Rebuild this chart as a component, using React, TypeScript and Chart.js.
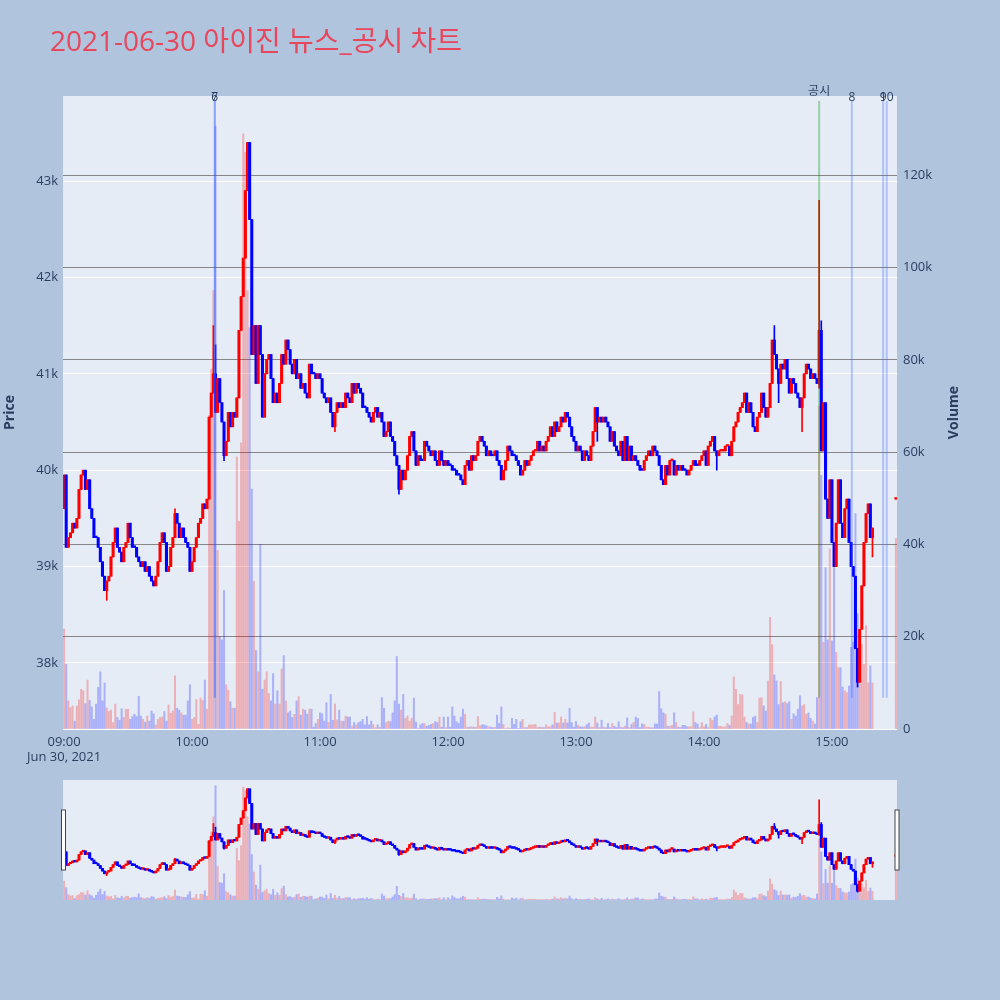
import React, { useEffect, useRef } from "react";
import { Chart, registerables } from "chart.js";

Chart.register(...registerables);

// ---------------- data ----------------
const TITLE = "2021-06-30 아이진 뉴스_공시 차트";
const DATE_LABEL = "Jun 30, 2021";
const FIRST_OPEN = 39600;

// one close per minute, 09:00 .. 15:19 (each candle opens at the previous close)
const closes: number[] = [
  39950, 39200, 39300, 39350, 39450, 39400, 39500, 39800, 39950, 40000,
  39800, 39900, 39600, 39500, 39300, 39300, 39200, 39050, 38900, 38750,
  38850, 38900, 39100, 39250, 39400, 39200, 39150, 39050, 39200, 39250,
  39450, 39300, 39200, 39200, 39100, 39050, 39000, 39050, 38950, 39000,
  38900, 38850, 38800, 38900, 39050, 39250, 39350, 39250, 38950, 39000,
  39200, 39300, 39550, 39450, 39300, 39400, 39300, 39250, 39200, 38950,
  39050, 39200, 39300, 39450, 39500, 39650, 39600, 39700, 40550, 40800,
  41000, 40600, 40950, 40700, 40500, 40150, 40300, 40600, 40450, 40600,
  40550, 40750, 41450, 41800, 42200, 42900, 43400, 42600, 41200, 41500,
  40900, 41500, 41200, 40550, 41000, 41150, 41200, 40950, 40700, 40800,
  40700, 40900, 41200, 41100, 41350, 41250, 41100, 41000, 41150, 40950,
  41000, 40850, 40900, 40800, 40750, 41100, 41000, 41000, 40950, 41000,
  40950, 40800, 40750, 40700, 40750, 40600, 40450, 40600, 40700, 40650,
  40700, 40650, 40800, 40750, 40700, 40900, 40800, 40900, 40850, 40800,
  40650, 40650, 40600, 40550, 40500, 40600, 40650, 40550, 40600, 40500,
  40350, 40400, 40500, 40350, 40300, 40150, 40050, 39800, 40000, 39900,
  40000, 40150, 40350, 40400, 40200, 40050, 40150, 40100, 40100, 40300,
  40250, 40200, 40150, 40200, 40100, 40050, 40200, 40100, 40050, 40100,
  40050, 40050, 40000, 40000, 39950, 39950, 39900, 39850, 40050, 40100,
  40000, 40150, 40100, 40150, 40300, 40350, 40300, 40250, 40150, 40200,
  40150, 40150, 40200, 40100, 40050, 39900, 40000, 40100, 40250, 40200,
  40150, 40150, 40100, 40050, 39950, 40000, 40100, 40050, 40100, 40150,
  40200, 40200, 40300, 40200, 40250, 40200, 40300, 40350, 40450, 40350,
  40500, 40400, 40450, 40550, 40500, 40600, 40550, 40450, 40350, 40300,
  40200, 40250, 40200, 40100, 40200, 40150, 40100, 40250, 40400, 40650,
  40500, 40550, 40500, 40550, 40500, 40450, 40300, 40400, 40250, 40200,
  40150, 40300, 40100, 40350, 40100, 40250, 40100, 40150, 40100, 40050,
  40000, 40000, 40100, 40150, 40200, 40150, 40250, 40200, 40150, 40050,
  39900, 39850, 40050, 39950, 40100, 40100, 39950, 40050, 40000, 40050,
  40000, 40000, 39950, 40000, 40050, 40100, 40050, 40050, 40100, 40150,
  40200, 40050, 40250, 40300, 40350, 40200, 40150, 40200, 40200, 40200,
  40250, 40250, 40150, 40300, 40450, 40500, 40600, 40650, 40700, 40800,
  40600, 40700, 40600, 40450, 40400, 40550, 40600, 40800, 40650, 40550,
  40650, 40900, 41350, 41200, 41050, 40900, 41100, 41050, 41150, 40950,
  40800, 40950, 40900, 40800, 40750, 40650, 40750, 41000, 41100, 41050,
  40950, 41000, 40950, 40900, 41450, 40200, 40700, 39700, 39500, 39900,
  39250, 39000, 39450, 39900, 39450, 39300, 39600, 39700, 39250, 39000,
  38900, 38150, 37800, 38350, 38800, 39250, 39550, 39650, 39300, 39400,
];

// wick extremes beyond the body: [minute index, price]
const wickHighs: [number, number][] = [
  [52, 39600], [70, 41500], [71, 41300], [333, 41500], [354, 42800], [355, 41550],
];
const wickLows: [number, number][] = [
  [20, 38650], [75, 40100], [127, 40400], [157, 39750], [250, 40300], [306, 40000],
  [335, 40700], [346, 40400], [354, 40850], [372, 37750], [379, 39100],
];

// volume per minute, in thousands of shares, 09:00 .. 15:19
const volumesK: number[] = [
  21.7, 14.0, 6.1, 4.6, 5.0, 1.7, 5.0, 6.3, 8.6, 8.3,
  5.5, 10.6, 6.2, 4.8, 2.1, 5.4, 9.0, 12.4, 6.1, 10.0,
  4.6, 3.8, 4.1, 1.4, 5.4, 2.5, 1.9, 4.4, 2.5, 4.3,
  4.3, 2.1, 2.7, 3.2, 2.7, 7.1, 2.8, 2.1, 1.5, 2.8,
  1.7, 3.9, 3.3, 0.9, 2.1, 2.5, 2.6, 3.8, 1.7, 5.2,
  3.4, 3.9, 11.5, 4.5, 4.1, 3.5, 3.0, 3.0, 6.1, 9.6,
  2.1, 2.5, 6.4, 1.0, 6.7, 6.2, 10.6, 4.3, 68.0, 78.0,
  95.0, 130.7, 38.7, 20.0, 19.3, 30.0, 9.6, 8.4, 5.9, 4.5,
  4.5, 59.0, 45.0, 62.0, 129.0, 125.0, 95.0, 87.0, 52.0, 32.0,
  17.0, 12.4, 40.0, 8.6, 10.6, 12.4, 7.7, 6.1, 12.0, 5.4,
  8.3, 5.4, 13.0, 15.9, 6.1, 3.5, 3.9, 2.5, 3.2, 6.1,
  7.0, 3.0, 4.3, 4.1, 3.2, 4.3, 4.3, 0.4, 1.2, 2.1,
  3.5, 3.3, 1.7, 5.7, 1.4, 7.5, 1.9, 5.4, 2.0, 4.1,
  1.7, 1.7, 2.8, 2.6, 2.6, 0.6, 1.4, 0.9, 1.4, 1.6,
  2.1, 0.9, 2.7, 0.9, 1.7, 1.0, 0.3, 0.9, 0.4, 6.8,
  4.5, 1.4, 1.7, 1.6, 3.5, 6.1, 15.7, 5.4, 4.1, 7.5,
  2.3, 2.8, 1.7, 2.3, 6.7, 1.5, 0.1, 0.9, 1.2, 1.2,
  0.6, 0.8, 1.0, 1.2, 1.6, 1.4, 2.6, 0.4, 2.6, 0.3,
  2.6, 0.4, 4.8, 2.8, 1.6, 1.2, 2.6, 4.3, 3.2, 0.4,
  0.4, 0.5, 0.4, 0.4, 2.7, 0.7, 0.9, 0.9, 0.7, 0.5,
  0.4, 0.3, 0.4, 3.0, 1.2, 4.8, 1.0, 0.1, 0.3, 0.1,
  2.3, 1.0, 2.1, 0.1, 1.6, 2.1, 0.3, 0.3, 0.9, 0.9,
  0.9, 1.0, 0.4, 0.4, 0.4, 0.3, 0.9, 0.5, 0.5, 0.9,
  3.6, 1.3, 1.3, 2.6, 1.3, 2.1, 1.3, 4.5, 1.4, 0.4,
  1.6, 0.8, 0.5, 0.4, 0.5, 0.9, 1.3, 0.4, 0.4, 2.6,
  1.3, 0.3, 1.9, 0.4, 0.3, 1.2, 0.3, 1.2, 0.6, 0.3,
  1.6, 0.4, 0.3, 0.6, 2.4, 0.3, 1.0, 1.4, 2.6, 2.3,
  0.3, 1.1, 1.0, 0.4, 0.4, 0.3, 0.3, 1.1, 1.1, 8.1,
  4.4, 3.5, 3.2, 0.6, 0.6, 0.8, 3.5, 1.4, 0.4, 0.4,
  0.8, 0.8, 0.5, 0.5, 0.5, 3.7, 1.4, 1.1, 0.3, 1.4,
  0.5, 1.0, 0.3, 2.3, 1.9, 2.6, 3.0, 0.6, 0.6, 0.4,
  0.5, 1.2, 0.8, 2.8, 11.3, 8.6, 5.3, 7.5, 7.4, 2.6,
  1.4, 1.1, 1.1, 2.5, 2.8, 1.4, 6.7, 6.8, 5.0, 3.9,
  10.4, 24.2, 18.3, 11.7, 10.4, 5.3, 10.3, 5.7, 5.9, 5.5,
  5.9, 2.1, 3.3, 2.8, 4.3, 7.2, 5.0, 5.3, 3.2, 3.5,
  2.3, 1.7, 1.1, 6.8, 70.0, 55.0, 18.8, 35.0, 19.3, 39.0,
  19.1, 35.0, 16.6, 13.3, 13.3, 9.1, 8.3, 7.9, 9.3, 17.7,
  18.8, 46.7, 25.0, 14.4, 18.4, 14.0, 22.4, 10.0, 13.7, 10.0,
];

// closing single-price auction
const closingTime = "15:30";
const closingPrice = 39700;
const closingVolumeK = 41.3;

const xTickTimes = ["09:00", "10:00", "11:00", "12:00", "13:00", "14:00", "15:00"];
const priceTicks = [38000, 39000, 40000, 41000, 42000, 43000];
const volumeTicks = [0, 20000, 40000, 60000, 80000, 100000, 120000];

const newsTimes = ["10:10:40", "10:10:40", "14:54:00", "15:09:20", "15:24:00", "15:25:40"];
const newsLabels = ["6", "7", "공시", "8", "9", "10"];
const newsIsDisclosure = [false, false, true, false, false, false];

const PRICE_MIN = 37315;
const PRICE_MAX = 43882;
const VOLUME_MAX = 137200;
const NEWS_LINE_LOW = 37640;
const NEWS_LINE_HIGH = 43830;

// ---------------- styling ----------------
const PAGE_BG = "#b0c4de";
const PLOT_BG = "#e5ecf6";
const TEXT = "#2a3f5f";
const UP = "rgb(255,0,0)";
const DOWN = "rgb(0,0,255)";
const UP_VOL = "rgba(255,0,0,0.25)";
const DOWN_VOL = "rgba(0,0,255,0.25)";
const FONT = '"Open Sans", "Noto Sans CJK KR", sans-serif';

const toMin = (t: string) => {
  const p = t.split(":").map(Number);
  return (p[0] - 9) * 60 + p[1] + (p[2] || 0) / 60;
};

type Candle = { x: number; o: number; h: number; l: number; c: number; up: boolean };

function buildCandles(): Candle[] {
  const hiMap = new Map(wickHighs);
  const loMap = new Map(wickLows);
  const out: Candle[] = [];
  let prevUp = true;
  closes.forEach((c, i) => {
    const o = i === 0 ? FIRST_OPEN : closes[i - 1];
    const h = Math.max(o, c, hiMap.get(i) ?? -Infinity);
    const l = Math.min(o, c, loMap.get(i) ?? Infinity);
    const up = c > o ? true : c < o ? false : prevUp;
    prevUp = up;
    out.push({ x: i, o, h, l, c, up });
  });
  const last = closes[closes.length - 1];
  out.push({
    x: toMin(closingTime),
    o: closingPrice,
    h: closingPrice,
    l: closingPrice,
    c: closingPrice,
    up: closingPrice >= last,
  });
  return out;
}

function buildDatasets(candles: Candle[], bodyW: number, wickW: number, volW: number) {
  const vols = [...volumesK, closingVolumeK];
  return [
    {
      type: "bar" as const,
      label: "Volume",
      yAxisID: "yv",
      data: candles.map((k, i) => ({ x: k.x, y: vols[i] * 1000 })),
      backgroundColor: candles.map((k) => (k.up ? UP_VOL : DOWN_VOL)),
      barThickness: volW,
      grouped: false,
      borderWidth: 0,
      order: 3,
    },
    {
      type: "bar" as const,
      label: "wick",
      yAxisID: "y",
      data: candles.map((k) => ({ x: k.x, y: [k.l, k.h] })),
      backgroundColor: candles.map((k) => (k.up ? UP : DOWN)),
      barThickness: wickW,
      grouped: false,
      borderWidth: 0,
      order: 2,
    },
    {
      type: "bar" as const,
      label: "body",
      yAxisID: "y",
      data: candles.map((k) => ({ x: k.x, y: [Math.min(k.o, k.c), Math.max(k.o, k.c)] })),
      backgroundColor: candles.map((k) => (k.up ? UP : DOWN)),
      barThickness: bodyW,
      minBarLength: 1.6,
      grouped: false,
      borderWidth: 0,
      order: 1,
    },
  ];
}

const mainDecor = {
  id: "mainDecor",
  beforeDraw(chart: any) {
    const { ctx, chartArea: a } = chart;
    ctx.save();
    ctx.fillStyle = PLOT_BG;
    ctx.fillRect(a.left, a.top, a.right - a.left, a.bottom - a.top);
    ctx.restore();
  },
  afterDatasetsDraw(chart: any) {
    const { ctx } = chart;
    const xs = chart.scales.x;
    const ys = chart.scales.y;
    const y0 = ys.getPixelForValue(NEWS_LINE_LOW);
    const y1 = ys.getPixelForValue(NEWS_LINE_HIGH);
    ctx.save();
    newsTimes.forEach((t, i) => {
      const px = xs.getPixelForValue(toMin(t));
      ctx.strokeStyle = newsIsDisclosure[i] ? "rgba(0,140,0,0.32)" : "rgba(60,100,255,0.32)";
      ctx.lineWidth = 2;
      ctx.beginPath();
      ctx.moveTo(px, y0);
      ctx.lineTo(px, y1);
      ctx.stroke();
    });
    ctx.restore();
  },
  afterDraw(chart: any) {
    const { ctx } = chart;
    const xs = chart.scales.x;
    ctx.save();
    // news labels
    ctx.fillStyle = TEXT;
    ctx.textAlign = "center";
    ctx.textBaseline = "alphabetic";
    ctx.font = `12px ${FONT}`;
    newsTimes.forEach((t, i) => {
      const px = xs.getPixelForValue(toMin(t));
      ctx.fillText(newsLabels[i], px, newsIsDisclosure[i] ? 95 : 100.5);
    });
    // title
    ctx.textAlign = "left";
    ctx.fillStyle = "#e8465a";
    ctx.font = `28px ${FONT}`;
    ctx.fillText(TITLE, 50, 51);
    // axis titles
    ctx.fillStyle = TEXT;
    ctx.font = `bold 14px ${FONT}`;
    ctx.textAlign = "center";
    ctx.textBaseline = "middle";
    const midY = (chart.chartArea.top + chart.chartArea.bottom) / 2;
    ctx.save();
    ctx.translate(10, midY);
    ctx.rotate(-Math.PI / 2);
    ctx.fillText("Price", 0, 0);
    ctx.restore();
    ctx.save();
    ctx.translate(954, midY);
    ctx.rotate(-Math.PI / 2);
    ctx.fillText("Volume", 0, 0);
    ctx.restore();
    ctx.restore();
  },
};

const sliderDecor = {
  id: "sliderDecor",
  beforeDraw(chart: any) {
    const { ctx, chartArea: a } = chart;
    ctx.save();
    ctx.fillStyle = PLOT_BG;
    ctx.fillRect(a.left, a.top, a.right - a.left, a.bottom - a.top);
    ctx.restore();
  },
  afterDraw(chart: any) {
    const { ctx, chartArea: a } = chart;
    ctx.save();
    ctx.fillStyle = "#ffffff";
    ctx.strokeStyle = "#444444";
    ctx.lineWidth = 1;
    const hy = a.top + 30;
    [a.left - 1.5, a.right - 2].forEach((hx) => {
      ctx.fillRect(hx, hy, 4, 60);
      ctx.strokeRect(hx, hy, 4, 60);
    });
    ctx.restore();
  },
};

export default function App() {
  const mainRef = useRef<HTMLCanvasElement>(null);
  const sliderRef = useRef<HTMLCanvasElement>(null);

  useEffect(() => {
    const candles = buildCandles();
    const tickFont = { family: FONT, size: 13 };

    const main = new Chart(mainRef.current as HTMLCanvasElement, {
      type: "bar",
      data: { datasets: buildDatasets(candles, 2.4, 1, 1.4) as any },
      plugins: [mainDecor],
      options: {
        animation: false,
        responsive: false,
        events: [],
        layout: { padding: { top: 96, left: 0, right: 0, bottom: 0 } },
        plugins: { legend: { display: false }, tooltip: { enabled: false } },
        scales: {
          x: {
            type: "linear",
            min: -0.5,
            max: 390.5,
            offset: false,
            grid: { display: false, drawTicks: false, tickLength: 0 },
            border: { display: false },
            afterBuildTicks: (s: any) => {
              s.ticks = xTickTimes.map((t) => ({ value: toMin(t) }));
            },
            afterFit: (s: any) => {
              s.height = 46;
            },
            ticks: {
              autoSkip: false,
              maxRotation: 0,
              padding: 5,
              color: TEXT,
              font: tickFont,
              callback: (_v: any, i: number) => (i === 0 ? [xTickTimes[0], DATE_LABEL] : xTickTimes[i]),
            },
          },
          y: {
            type: "linear",
            position: "left",
            min: PRICE_MIN,
            max: PRICE_MAX,
            grid: { color: "#ffffff", lineWidth: 1, drawTicks: false },
            border: { display: false },
            afterBuildTicks: (s: any) => {
              s.ticks = priceTicks.map((v) => ({ value: v }));
            },
            afterFit: (s: any) => {
              s.width = 63;
            },
            ticks: {
              padding: 5,
              color: TEXT,
              font: tickFont,
              callback: (v: any) => `${Number(v) / 1000}k`,
            },
          },
          yv: {
            type: "linear",
            position: "right",
            min: 0,
            max: VOLUME_MAX,
            grid: {
              color: (c: any) => (c.tick && c.tick.value === 0 ? "#ffffff" : "rgba(100,100,100,0.75)"),
              lineWidth: 1,
              drawTicks: false,
            },
            border: { display: false },
            afterBuildTicks: (s: any) => {
              s.ticks = volumeTicks.map((v) => ({ value: v }));
            },
            afterFit: (s: any) => {
              s.width = 103;
            },
            ticks: {
              padding: 6,
              color: TEXT,
              font: tickFont,
              callback: (v: any) => (Number(v) === 0 ? "0" : `${Number(v) / 1000}k`),
            },
          },
        },
      } as any,
    });

    const slider = new Chart(sliderRef.current as HTMLCanvasElement, {
      type: "bar",
      data: { datasets: buildDatasets(candles, 2.4, 1, 1.4) as any },
      plugins: [sliderDecor],
      options: {
        animation: false,
        responsive: false,
        events: [],
        layout: { padding: { top: 10, bottom: 10, left: 63, right: 103 } },
        plugins: { legend: { display: false }, tooltip: { enabled: false } },
        scales: {
          x: { type: "linear", min: -0.5, max: 390.5, offset: false, display: false },
          y: { type: "linear", min: PRICE_MIN, max: PRICE_MAX, display: false },
          yv: { type: "linear", min: 0, max: VOLUME_MAX, display: false },
        },
      } as any,
    });

    return () => {
      main.destroy();
      slider.destroy();
    };
  }, []);

  return (
    <div
      style={{
        position: "absolute",
        left: 0,
        top: 0,
        width: 1000,
        height: 1000,
        background: PAGE_BG,
        overflow: "hidden",
      }}
    >
      <canvas
        ref={mainRef}
        width={1000}
        height={775}
        style={{ position: "absolute", left: 0, top: 0, width: 1000, height: 775 }}
      />
      <canvas
        ref={sliderRef}
        width={1000}
        height={140}
        style={{ position: "absolute", left: 0, top: 770, width: 1000, height: 140 }}
      />
    </div>
  );
}
